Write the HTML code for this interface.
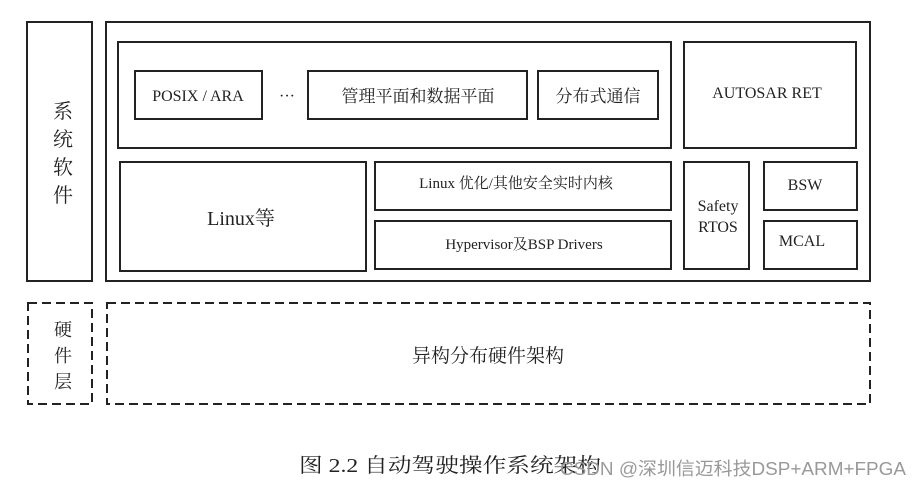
<!DOCTYPE html>
<html><head><meta charset="utf-8"><style>
body{margin:0;background:#fff}
svg text{font-family:"Liberation Serif","Noto Serif CJK SC",serif;fill:#222}
</style></head><body>
<svg width="922" height="488" viewBox="0 0 922 488" xmlns="http://www.w3.org/2000/svg">
<g fill="none" stroke="#222" stroke-width="2">
<rect x="27" y="22" width="65" height="259"/>
<rect x="106" y="22" width="764" height="259"/>
<rect x="118" y="42" width="553" height="106"/>
<rect x="135" y="71" width="127" height="48"/>
<rect x="308" y="71" width="219" height="48"/>
<rect x="538" y="71" width="120" height="48"/>
<rect x="684" y="42" width="172" height="106"/>
<rect x="120" y="162" width="246" height="109"/>
<rect x="375" y="162" width="296" height="48"/>
<rect x="375" y="221" width="296" height="48"/>
<rect x="684" y="162" width="65" height="107"/>
<rect x="764" y="162" width="93" height="48"/>
<rect x="764" y="221" width="93" height="48"/>
<g stroke-dasharray="9,5">
<rect x="28" y="303" width="64" height="101"/>
<rect x="107" y="303" width="763" height="101"/>
</g>
</g>
<g font-size="20" text-anchor="middle">
<text x="63" y="118">系</text><text x="63" y="146">统</text><text x="63" y="174">软</text><text x="63" y="202">件</text>
<text x="63" y="336" font-size="18">硬</text><text x="63" y="362" font-size="18">件</text><text x="63" y="388" font-size="18">层</text>
</g>
<g text-anchor="middle" font-size="16">
<text x="198" y="101">POSIX / ARA</text>
<text x="287" y="101" font-size="16">···</text>
<text x="418" y="102" font-size="17">管理平面和数据平面</text>
<text x="598" y="102" font-size="17">分布式通信</text>
<text x="767" y="98">AUTOSAR RET</text>
<text x="241" y="225" font-size="20">Linux等</text>
<text x="516" y="188" font-size="15">Linux 优化/其他安全实时内核</text>
<text x="524" y="249" font-size="15">Hypervisor及BSP Drivers</text>
<text x="718" y="211">Safety</text>
<text x="718" y="232">RTOS</text>
<text x="805" y="190">BSW</text>
<text x="802" y="246">MCAL</text>
<text x="488" y="362" font-size="19">异构分布硬件架构</text>
</g>
<text x="299" y="472" font-size="20" textLength="302" lengthAdjust="spacingAndGlyphs">图 2.2  自动驾驶操作系统架构</text>
<text x="560" y="475" font-size="18" textLength="346" lengthAdjust="spacingAndGlyphs" style="font-family:'Liberation Sans','Noto Sans CJK SC',sans-serif;fill:#999">CSDN @深圳信迈科技DSP+ARM+FPGA</text>
</svg>
</body></html>
